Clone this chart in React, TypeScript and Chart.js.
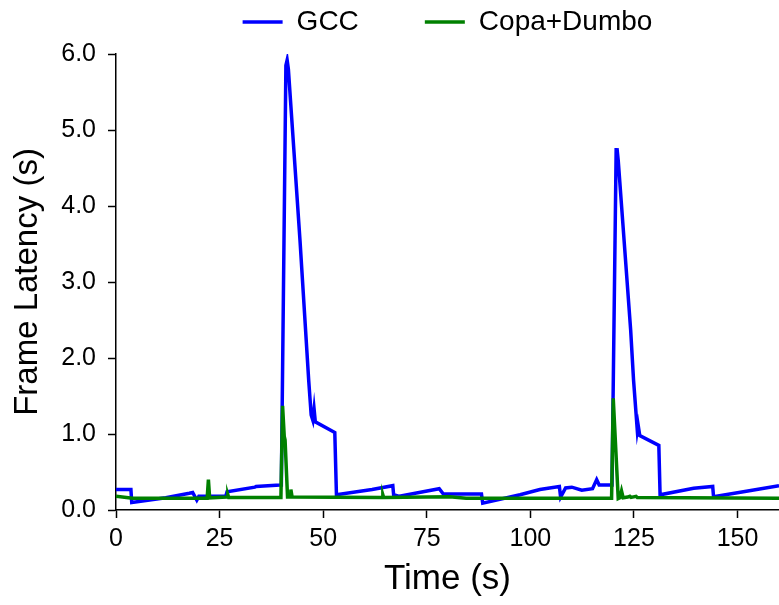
import React, { useEffect, useRef } from 'react';
import { Chart, registerables } from 'chart.js';

Chart.register(...registerables);

// ---- data ----
const gccTime = [
  0, 3.6, 3.8, 12, 17.7, 18.5, 19.5, 20, 26.5, 26.8, 33.5, 33.8, 39.6,
  39.9, 41.0, 41.3, 41.6, 44.4, 46.5, 47.1, 47.5, 47.8, 48.1, 52.8, 53.2,
  61.8, 66.8, 67.0, 68.4, 78.0, 79.0, 88.2, 88.5, 97.5, 102.3, 107.0, 107.3,
  108.5, 110, 112.4, 115, 116, 116.6, 119.5, 119.7, 120.7, 120.9, 121.2,
  124.2, 124.9, 125.8, 126.0, 126.4, 131.0, 131.3, 139.4, 144.0, 144.2,
  151.4, 160,
];
const gccLatency = [
  0.27, 0.27, 0.10, 0.16, 0.22, 0.23, 0.13, 0.18, 0.18, 0.24, 0.30, 0.31, 0.33,
  0.33, 5.85, 5.92, 5.8, 3.55, 1.71, 1.25, 1.18, 1.33, 1.16, 1.02, 0.2,
  0.27, 0.32, 0.2, 0.18, 0.28, 0.21, 0.21, 0.09, 0.2, 0.27, 0.31, 0.17,
  0.29, 0.3, 0.26, 0.28, 0.4, 0.33, 0.33, 0.33, 4.74, 4.76, 4.6,
  2.37, 1.71, 1.05, 1.12, 0.98, 0.85, 0.2, 0.285, 0.31, 0.175,
  0.24, 0.32,
];
const copaTime = [
  0, 4, 22.0, 22.3, 22.6, 26.8, 27.0, 27.2, 39.8, 40.2, 40.6, 40.8, 41.4,
  42.0, 42.2, 42.5, 64.2, 64.4, 64.6, 80.5, 84.5, 119.6, 120.0, 121.2,
  121.6, 122.0, 122.4, 123.5, 124.0, 124.3, 125.5, 125.8, 160,
];
const copaLatency = [
  0.18, 0.155, 0.155, 0.40, 0.16, 0.17, 0.2, 0.165, 0.165, 1.37, 0.97, 0.92, 0.17,
  0.17, 0.27, 0.17, 0.165, 0.2, 0.165, 0.175, 0.155, 0.155, 1.47, 0.15,
  0.16, 0.25, 0.16, 0.17, 0.18, 0.165, 0.18, 0.165, 0.155,
];
const xTickValues = [0, 25, 50, 75, 100, 125, 150];
const yTickValues = [0, 1, 2, 3, 4, 5, 6];
const seriesNames = ['GCC', 'Copa+Dumbo'];
const seriesColors = ['rgb(0,0,255)', 'rgb(0,128,0)'];

const FONT = "'Liberation Sans', Arial, Helvetica, sans-serif";
const LEGEND_FS = 28;

const legendLayout = {
  id: 'legendLayout',
  beforeInit(chart: any) {
    const legend = chart.legend;
    if (!legend) return;
    const fit = legend.fit;
    legend.fit = function () {
      fit.call(this);
      this.height = 54;
    };
  },
  afterLayout(chart: any) {
    const lg = chart.legend;
    if (!lg) return;
    const p = lg.options.labels.padding;
    // move the legend row up so its text is centred near y = 22, keep the clip box covering it
    lg.top = 22 - LEGEND_FS / 2 - p;
  },
};

export default function App() {
  const ref = useRef<HTMLCanvasElement | null>(null);

  useEffect(() => {
    if (!ref.current) return;
    const chart = new Chart(ref.current, {
      type: 'line',
      data: {
        datasets: [
          {
            label: seriesNames[0],
            data: gccTime.map((t, i) => ({ x: t, y: gccLatency[i] })),
            borderColor: seriesColors[0],
            backgroundColor: seriesColors[0],
            borderWidth: 3.5,
            pointRadius: 0,
            tension: 0,
            order: 1,
          },
          {
            label: seriesNames[1],
            data: copaTime.map((t, i) => ({ x: t, y: copaLatency[i] })),
            borderColor: seriesColors[1],
            backgroundColor: seriesColors[1],
            borderWidth: 3.5,
            pointRadius: 0,
            tension: 0,
            order: 0,
          },
        ],
      },
      options: {
        responsive: false,
        animation: false,
        events: [],
        layout: { padding: 0 },
        plugins: {
          tooltip: { enabled: false },
          legend: {
            position: 'top',
            fullSize: false,
            labels: {
              usePointStyle: true,
              pointStyle: 'line',
              pointStyleWidth: 40,
              padding: 66,
              color: '#000',
              font: { family: FONT, size: LEGEND_FS },
              sort: (a: any, b: any) => a.datasetIndex - b.datasetIndex,
            },
          },
        },
        scales: {
          x: {
            type: 'linear',
            min: 0,
            max: 160,
            afterBuildTicks: (scale: any) => {
              scale.ticks = xTickValues.map((v) => ({ value: v }));
            },
            afterFit: (scale: any) => {
              scale.height = 95;
            },
            ticks: {
              color: '#000',
              font: { family: FONT, size: 25 },
              padding: 6,
              maxRotation: 0,
              autoSkip: false,
              includeBounds: false,
            },
            grid: {
              drawOnChartArea: false,
              drawTicks: true,
              tickLength: 8,
              tickColor: '#000',
              tickWidth: 1.5,
            },
            border: { display: true, color: '#000', width: 1.5 },
            title: {
              display: true,
              text: 'Time (s)',
              color: '#000',
              font: { family: FONT, size: 35 },
              padding: { top: 0, bottom: 5 },
            },
          },
          y: {
            type: 'linear',
            min: 0,
            max: 6,
            afterBuildTicks: (scale: any) => {
              scale.ticks = yTickValues.map((v) => ({ value: v }));
            },
            afterFit: (scale: any) => {
              scale.width = 116;
            },
            ticks: {
              color: '#000',
              font: { family: FONT, size: 25 },
              padding: 12,
              autoSkip: false,
              callback: (v: any) => Number(v).toFixed(1),
            },
            grid: {
              drawOnChartArea: false,
              drawTicks: true,
              tickLength: 8,
              tickColor: '#000',
              tickWidth: 1.5,
            },
            border: { display: true, color: '#000', width: 1.5 },
            title: {
              display: true,
              text: 'Frame Latency (s)',
              color: '#000',
              font: { family: FONT, size: 33 },
              padding: { top: 8, bottom: 0 },
            },
          },
        },
      },
      plugins: [legendLayout],
    } as any);
    return () => chart.destroy();
  }, []);

  return (
    <div style={{ position: 'absolute', left: 0, top: 0, width: 779, height: 605, background: '#fff' }}>
      <canvas ref={ref} width={779} height={605} style={{ display: 'block', width: 779, height: 605 }} />
    </div>
  );
}
